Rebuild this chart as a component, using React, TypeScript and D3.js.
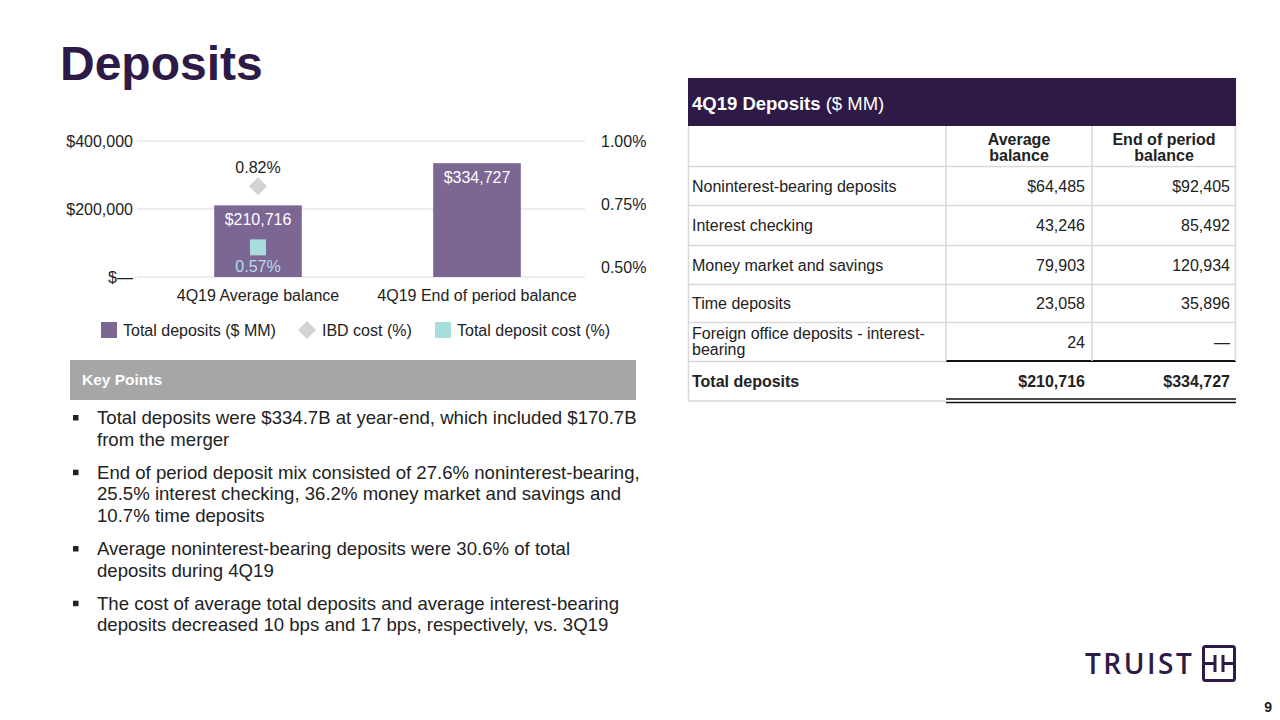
import React from "react";
import * as d3 from "d3";

const categories = ["4Q19 Average balance", "4Q19 End of period balance"];
const totalDeposits = [210716, 334727];
const ibdCost = [0.82, null];
const totalDepositCost = [0.57, null];
const leftTicks = [0, 200000, 400000];
const rightTicks = [0.5, 0.75, 1.0];

const tableRows = [
  "Noninterest-bearing deposits",
  "Interest checking",
  "Money market and savings",
  "Time deposits",
  "Foreign office deposits - interest-bearing",
];
const avgBalance = ["$64,485", "43,246", "79,903", "23,058", "24"];
const eopBalance = ["$92,405", "85,492", "120,934", "35,896", "—"];
const totalRow = ["Total deposits", "$210,716", "$334,727"];

const bullets = [
  ["Total deposits were $334.7B at year-end, which included $170.7B", "from the merger"],
  [
    "End of period deposit mix consisted of 27.6% noninterest-bearing,",
    "25.5% interest checking, 36.2% money market and savings and",
    "10.7% time deposits",
  ],
  ["Average noninterest-bearing deposits were 30.6% of total", "deposits during 4Q19"],
  [
    "The cost of average total deposits and average interest-bearing",
    "deposits decreased 10 bps and 17 bps, respectively, vs. 3Q19",
  ],
];

const FONT = "'Liberation Sans', Arial, sans-serif";
const PURPLE_DARK = "#2e1a47";
const BAR = "#7b6694";
const TEAL = "#a9dcdc";
const DIAMOND = "#d3d3d3";
const GRID = "#d9d9d9";
const TEXT = "#222";

function fmtMoney(v: number) {
  return v === 0 ? "$—" : "$" + d3.format(",")(v);
}

export default function App() {
  const y = d3.scaleLinear().domain([0, 400000]).range([277, 141]);
  const y2 = d3.scaleLinear().domain([0.5, 1.0]).range([267, 141]);
  const x = d3
    .scaleBand<string>()
    .domain(categories)
    .range([148.5, 586.5])
    .paddingInner(0.6)
    .paddingOuter(0.3);
  const bw = x.bandwidth();

  // Table geometry
  const tX0 = 688, tX1 = 946, tX2 = 1092, tX3 = 1236;
  const rowTops = [166, 205, 245, 284, 322];
  const rowBottoms = [205, 245, 284, 322, 361];

  let bulletY = 424;
  const bulletEls: React.ReactNode[] = [];
  bullets.forEach((lines, i) => {
    bulletEls.push(<rect key={"b" + i} x={73} y={bulletY - 9} width={5.5} height={5.5} fill={TEXT} />);
    lines.forEach((ln, j) => {
      bulletEls.push(
        <text key={"l" + i + "-" + j} x={97} y={bulletY + j * 21.6} fontSize={18.6} fill={TEXT}>
          {ln}
        </text>
      );
    });
    bulletY += lines.length * 21.6 + 11.5;
  });

  return (
    <div style={{ position: "absolute", left: 0, top: 0 }}>
      <svg width={1280} height={720} style={{ display: "block", background: "#fff" }} fontFamily={FONT}>
        {/* Title */}
        <text x={60} y={80} fontSize={48} fontWeight="bold" fill={PURPLE_DARK}>
          Deposits
        </text>

        {/* Gridlines */}
        {leftTicks.map((t) => (
          <line key={"g" + t} x1={137} x2={585} y1={y(t)} y2={y(t)} stroke={GRID} strokeWidth={1} />
        ))}
        {/* Left axis labels */}
        {leftTicks.map((t) => (
          <text key={"lt" + t} x={133} y={y(t) + 5.5} fontSize={16} textAnchor="end" fill={TEXT}>
            {fmtMoney(t)}
          </text>
        ))}
        {/* Right axis labels */}
        {rightTicks.map((t) => (
          <text key={"rt" + t} x={601} y={y2(t) + 6} fontSize={16} fill={TEXT}>
            {t.toFixed(2) + "%"}
          </text>
        ))}

        {/* Bars */}
        {categories.map((c, i) => (
          <g key={"bar" + i}>
            <rect x={x(c)} y={y(totalDeposits[i])} width={bw} height={y(0) - y(totalDeposits[i])} fill={BAR} />
            <text
              x={(x(c) as number) + bw / 2}
              y={y(totalDeposits[i]) + 20}
              fontSize={16}
              textAnchor="middle"
              fill="#fff"
            >
              {fmtMoney(totalDeposits[i])}
            </text>
            <text x={(x(c) as number) + bw / 2} y={301} fontSize={16} textAnchor="middle" fill={TEXT}>
              {c}
            </text>
          </g>
        ))}

        {/* IBD cost diamonds */}
        {categories.map((c, i) => {
          const v = ibdCost[i];
          if (v == null) return null;
          const cx = (x(c) as number) + bw / 2;
          const cy = y2(v);
          return (
            <g key={"d" + i}>
              <path d={`M${cx},${cy - 9} L${cx + 9},${cy} L${cx},${cy + 9} L${cx - 9},${cy} Z`} fill={DIAMOND} />
              <text x={cx} y={cy - 13} fontSize={16} textAnchor="middle" fill={TEXT}>
                {v.toFixed(2) + "%"}
              </text>
            </g>
          );
        })}
        {/* Total deposit cost squares */}
        {categories.map((c, i) => {
          const v = totalDepositCost[i];
          if (v == null) return null;
          const cx = (x(c) as number) + bw / 2;
          const cy = y2(v) - 2;
          return (
            <g key={"s" + i}>
              <rect x={cx - 8} y={cy - 8} width={16} height={16} fill={TEAL} />
              <text x={cx} y={cy + 25} fontSize={16} textAnchor="middle" fill="#b9dde8">
                {v.toFixed(2) + "%"}
              </text>
            </g>
          );
        })}

        {/* Legend */}
        <rect x={101} y={322} width={16} height={16} fill={BAR} />
        <text x={123} y={336} fontSize={16} fill={TEXT}>
          Total deposits ($ MM)
        </text>
        <path d="M307,321 L316,330 L307,339 L298,330 Z" fill={DIAMOND} />
        <text x={322} y={336} fontSize={16} fill={TEXT}>
          IBD cost (%)
        </text>
        <rect x={435} y={322} width={16} height={16} fill={TEAL} />
        <text x={457} y={336} fontSize={16} fill={TEXT}>
          Total deposit cost (%)
        </text>

        {/* Key Points */}
        <rect x={70} y={360} width={566} height={40} fill="#a6a6a6" />
        <text x={82} y={385} fontSize={15.5} fontWeight="bold" fill="#fff">
          Key Points
        </text>
        {bulletEls}

        {/* Table */}
        <rect x={tX0} y={78} width={tX3 - tX0} height={48} fill={PURPLE_DARK} />
        <text x={692} y={110} fontSize={18.5} fill="#fff">
          <tspan fontWeight="bold">4Q19 Deposits</tspan>
          <tspan> ($ MM)</tspan>
        </text>
        {/* column headers */}
        <text x={(tX1 + tX2) / 2} y={145} fontSize={16} fontWeight="bold" textAnchor="middle" fill={TEXT}>
          Average
        </text>
        <text x={(tX1 + tX2) / 2} y={161} fontSize={16} fontWeight="bold" textAnchor="middle" fill={TEXT}>
          balance
        </text>
        <text x={(tX2 + tX3) / 2} y={145} fontSize={16} fontWeight="bold" textAnchor="middle" fill={TEXT}>
          End of period
        </text>
        <text x={(tX2 + tX3) / 2} y={161} fontSize={16} fontWeight="bold" textAnchor="middle" fill={TEXT}>
          balance
        </text>
        {/* horizontal row borders */}
        {[166, ...rowBottoms.slice(0, 4)].map((yy, i) => (
          <line key={"hr" + i} x1={tX0} x2={tX3} y1={yy + 0.5} y2={yy + 0.5} stroke={GRID} strokeWidth={1.5} />
        ))}
        <line x1={tX0} x2={tX1} y1={361.5} y2={361.5} stroke={GRID} strokeWidth={1.5} />
        <line x1={tX1} x2={tX3} y1={361} y2={361} stroke="#111" strokeWidth={2} />
        <line x1={tX0} x2={tX1} y1={401} y2={401} stroke={GRID} strokeWidth={1.5} />
        <line x1={tX1} x2={tX3} y1={399} y2={399} stroke="#111" strokeWidth={1.3} />
        <line x1={tX1} x2={tX3} y1={402.5} y2={402.5} stroke="#111" strokeWidth={1.3} />
        {/* vertical borders */}
        <line x1={tX0 + 0.5} x2={tX0 + 0.5} y1={126} y2={401} stroke={GRID} strokeWidth={1.5} />
        <line x1={tX1} x2={tX1} y1={126} y2={361} stroke={GRID} strokeWidth={1.5} />
        <line x1={tX2} x2={tX2} y1={126} y2={361} stroke={GRID} strokeWidth={1.5} />
        <line x1={tX3 - 0.5} x2={tX3 - 0.5} y1={126} y2={361} stroke={GRID} strokeWidth={1.5} />
        {/* rows */}
        {tableRows.map((r, i) => {
          const mid = (rowTops[i] + rowBottoms[i]) / 2;
          const isWrap = r.startsWith("Foreign");
          return (
            <g key={"row" + i}>
              {isWrap ? (
                <>
                  <text x={692} y={339} fontSize={16} fill={TEXT}>
                    Foreign office deposits - interest-
                  </text>
                  <text x={692} y={355} fontSize={16} fill={TEXT}>
                    bearing
                  </text>
                </>
              ) : (
                <text x={692} y={mid + 6} fontSize={16} fill={TEXT}>
                  {r}
                </text>
              )}
              <text x={tX2 - 7} y={mid + 6} fontSize={16} textAnchor="end" fill={TEXT}>
                {avgBalance[i]}
              </text>
              <text x={tX3 - 6} y={mid + 6} fontSize={16} textAnchor="end" fill={TEXT}>
                {eopBalance[i]}
              </text>
            </g>
          );
        })}
        <text x={692} y={387} fontSize={16} fontWeight="bold" fill={TEXT}>
          {totalRow[0]}
        </text>
        <text x={tX2 - 7} y={387} fontSize={16} fontWeight="bold" textAnchor="end" fill={TEXT}>
          {totalRow[1]}
        </text>
        <text x={tX3 - 6} y={387} fontSize={16} fontWeight="bold" textAnchor="end" fill={TEXT}>
          {totalRow[2]}
        </text>

        {/* Logo */}
        <text x={1085} y={674} fontSize={28} fontWeight="600" letterSpacing={2.5} fill={PURPLE_DARK} fontFamily="'Open Sans', 'DejaVu Sans', sans-serif">
          TRUIST
        </text>
        <rect x={1203.5} y={646.5} width={31} height={34} rx={2} fill="none" stroke={PURPLE_DARK} strokeWidth={3} />
        <line x1={1203.5} x2={1215} y1={663.5} y2={663.5} stroke={PURPLE_DARK} strokeWidth={3} />
        <line x1={1223} x2={1234.5} y1={663.5} y2={663.5} stroke={PURPLE_DARK} strokeWidth={3} />
        <line x1={1215} x2={1215} y1={655} y2={672} stroke={PURPLE_DARK} strokeWidth={3} />
        <line x1={1223} x2={1223} y1={655} y2={672} stroke={PURPLE_DARK} strokeWidth={3} />
        <text x={1272} y={712} fontSize={14} fontWeight="bold" textAnchor="end" fill={TEXT}>
          9
        </text>
      </svg>
    </div>
  );
}
